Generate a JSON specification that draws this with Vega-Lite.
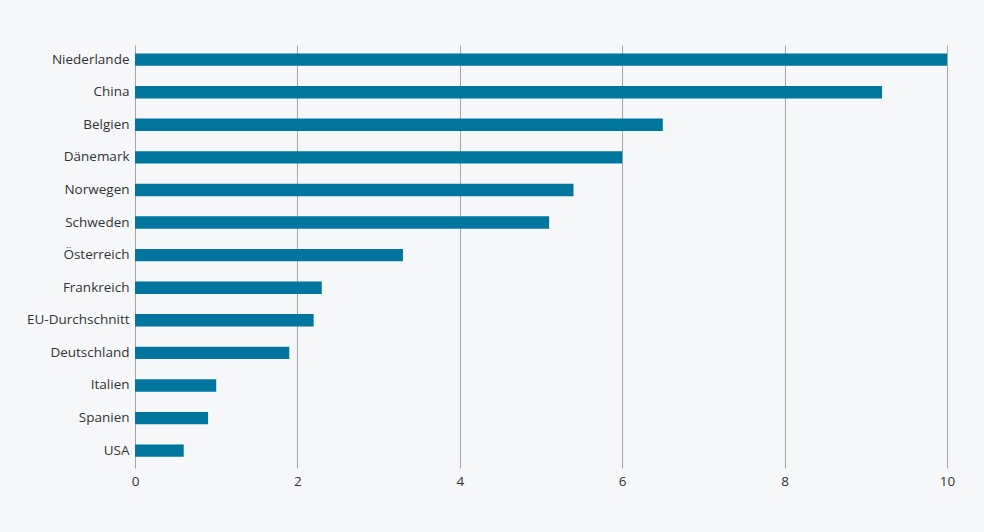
{
  "$schema": "https://vega.github.io/schema/vega-lite/v6.json",
  "autosize": "none",
  "width": 812,
  "height": 423,
  "padding": {"left": 135, "top": 45, "right": 37, "bottom": 64},
  "background": "#f5f7f9",
  "config": {
    "view": {"stroke": null},
    "font": "Open Sans",
    "axis": {"labelFont": "Open Sans", "labelFontSize": 13.5, "labelColor": "#333333"}
  },
  "data": {
    "values": [
      {"land": "Niederlande", "wert": 10},
      {"land": "China", "wert": 9.2},
      {"land": "Belgien", "wert": 6.5},
      {"land": "Dänemark", "wert": 6.0},
      {"land": "Norwegen", "wert": 5.4},
      {"land": "Schweden", "wert": 5.1},
      {"land": "Österreich", "wert": 3.3},
      {"land": "Frankreich", "wert": 2.3},
      {"land": "EU-Durchschnitt", "wert": 2.2},
      {"land": "Deutschland", "wert": 1.9},
      {"land": "Italien", "wert": 1.0},
      {"land": "Spanien", "wert": 0.9},
      {"land": "USA", "wert": 0.6}
    ]
  },
  "mark": {"type": "bar", "color": "#00769e"},
  "encoding": {
    "y": {
      "field": "land", "type": "nominal", "sort": null, "title": null,
      "scale": {"paddingInner": 0.62, "paddingOuter": 0.3, "align": 0.43},
      "axis": {"domain": false, "ticks": false, "labelPadding": 6, "grid": false}
    },
    "x": {
      "field": "wert", "type": "quantitative", "title": null,
      "scale": {"domain": [0, 10], "nice": false},
      "axis": {"values": [0, 2, 4, 6, 8, 10], "domain": false, "ticks": false, "labelPadding": 6, "labelFlush": false, "grid": true, "gridColor": "#a6a6a6", "gridWidth": 1}
    }
  }
}
